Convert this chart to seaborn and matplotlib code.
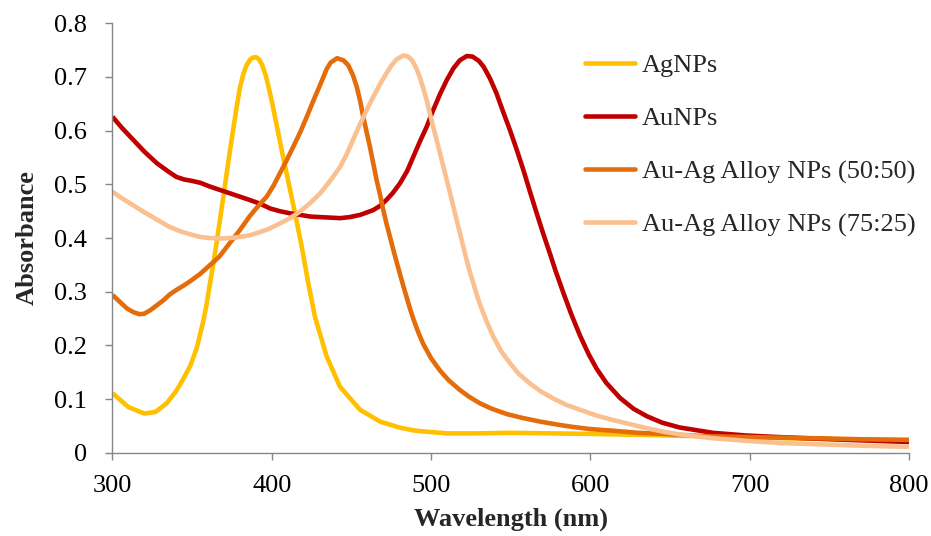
import numpy as np
import pandas as pd
import matplotlib
matplotlib.use("Agg")
import matplotlib.pyplot as plt
import seaborn as sns

# UV-Vis absorbance spectra: wavelength (nm) and absorbance per sample
ag_wl = [300, 310, 320, 327, 334, 340, 344, 349, 353, 357, 359, 361.2, 363.3, 365.4, 369.6, 373.8,
         378, 380, 382, 384, 386.3, 388, 390, 392, 394, 396, 397.8, 400, 402, 406.2, 410.4, 414.6,
         418.8, 422.9, 427.1, 434.5, 442.8, 455.4, 468, 480, 490, 510, 530, 550, 575, 600, 635, 680,
         720, 760, 800]
ag_abs = [0.111, 0.085, 0.073, 0.076, 0.092, 0.115, 0.135, 0.163, 0.196, 0.245, 0.275, 0.315, 0.352,
          0.392, 0.477, 0.564, 0.645, 0.680, 0.704, 0.721, 0.732, 0.736, 0.737, 0.733, 0.722, 0.705,
          0.684, 0.655, 0.626, 0.564, 0.505, 0.446, 0.384, 0.316, 0.253, 0.179, 0.123, 0.080, 0.058,
          0.047, 0.041, 0.036, 0.036, 0.037, 0.036, 0.035, 0.033, 0.030, 0.027, 0.025, 0.023]

au_wl = [300, 306, 313, 320, 328, 335, 340, 345, 349, 355, 361, 368, 374, 380, 386, 392.6, 399, 405,
         411.5, 418, 424, 430, 436.5, 443, 449, 455.4, 460, 463.7, 468, 472, 476, 480.5, 485, 488.8,
         493, 497.2, 501, 505.6, 509.8, 514, 518, 522.4, 526, 530, 533, 537, 541, 545, 549.5, 553.7,
         557.9, 562, 566.3, 570.5, 574.6, 578, 583, 588, 593.5, 599, 604, 610, 618.6, 627, 635.4, 645,
         656, 677, 698, 719, 760, 800]
au_abs = [0.626, 0.605, 0.583, 0.561, 0.539, 0.524, 0.514, 0.509, 0.507, 0.503, 0.496, 0.489, 0.483,
          0.477, 0.471, 0.464, 0.455, 0.450, 0.446, 0.443, 0.440, 0.439, 0.438, 0.437, 0.439, 0.443,
          0.448, 0.452, 0.460, 0.471, 0.484, 0.502, 0.525, 0.551, 0.580, 0.607, 0.636, 0.668, 0.694,
          0.716, 0.731, 0.739, 0.738, 0.730, 0.719, 0.697, 0.670, 0.637, 0.601, 0.565, 0.527, 0.487,
          0.446, 0.407, 0.371, 0.340, 0.298, 0.258, 0.218, 0.183, 0.156, 0.130, 0.102, 0.082, 0.068,
          0.056, 0.047, 0.037, 0.032, 0.029, 0.024, 0.020]

a50_wl = [300, 305, 309, 313, 317, 320, 324, 328, 332, 336, 340, 345, 349, 355, 361, 367, 374, 380,
          386, 391, 396.8, 401, 405, 409, 413.5, 418, 422, 426, 430.3, 434.5, 437, 441, 445, 448, 451,
          453.3, 455.5, 457.4, 459.5, 461.6, 463.7, 465.8, 468, 470, 472, 474.2, 476.3, 478.4, 481,
          483.6, 486.8, 489, 492, 495, 500, 505.6, 511, 518, 524, 530.7, 538, 547.5, 557, 568.4, 580,
          589, 600, 614, 630, 646, 670, 700, 740, 770, 800]
a50_abs = [0.294, 0.280, 0.269, 0.262, 0.258, 0.259, 0.266, 0.275, 0.284, 0.295, 0.303, 0.312, 0.320,
           0.333, 0.349, 0.365, 0.392, 0.415, 0.440, 0.458, 0.477, 0.497, 0.520, 0.543, 0.570, 0.598,
           0.626, 0.655, 0.685, 0.715, 0.727, 0.735, 0.731, 0.722, 0.703, 0.682, 0.655, 0.626, 0.598,
           0.570, 0.539, 0.508, 0.480, 0.452, 0.427, 0.402, 0.378, 0.355, 0.327, 0.300, 0.268, 0.248,
           0.224, 0.203, 0.176, 0.153, 0.135, 0.117, 0.104, 0.092, 0.082, 0.072, 0.065, 0.058, 0.052,
           0.048, 0.044, 0.041, 0.037, 0.035, 0.031, 0.029, 0.027, 0.025, 0.024]

a75_wl = [300, 306, 313, 320, 328, 335, 342, 348.7, 355, 361, 368, 374, 380, 386, 392.6, 399, 405,
          411.5, 418, 424, 430.3, 436.5, 442.8, 447, 451, 455.4, 459.5, 463.7, 468, 472, 475, 478.4,
          482.5, 485, 487.8, 490.5, 492.9, 495, 497.2, 499, 501.3, 503.5, 505.6, 507.7, 509.8, 512,
          514, 516, 518.1, 520.2, 522.3, 524.4, 526.5, 528.6, 530.7, 534.9, 539.1, 544, 549.5, 555,
          562, 569, 576.7, 585, 593.5, 603, 614, 625, 635, 646, 656, 677, 698, 720, 740, 770, 800]
a75_abs = [0.486, 0.474, 0.461, 0.448, 0.434, 0.422, 0.413, 0.407, 0.402, 0.400, 0.399, 0.400, 0.402,
           0.405, 0.411, 0.418, 0.427, 0.437, 0.450, 0.465, 0.483, 0.506, 0.532, 0.556, 0.583, 0.612,
           0.638, 0.663, 0.687, 0.707, 0.721, 0.733, 0.740, 0.739, 0.732, 0.718, 0.700, 0.680, 0.657,
           0.635, 0.607, 0.582, 0.558, 0.533, 0.508, 0.483, 0.458, 0.434, 0.409, 0.384, 0.359, 0.336,
           0.316, 0.295, 0.276, 0.244, 0.216, 0.189, 0.167, 0.147, 0.129, 0.114, 0.101, 0.089, 0.080,
           0.070, 0.061, 0.053, 0.046, 0.039, 0.034, 0.027, 0.022, 0.018, 0.016, 0.013, 0.011]

series_names = ["AgNPs", "AuNPs", "Au-Ag Alloy NPs (50:50)", "Au-Ag Alloy NPs (75:25)"]
series_colors = ["#FFC000", "#C00000", "#E46C0A", "#FAC090"]

frames = []
for name, wl, ab in zip(series_names, [ag_wl, au_wl, a50_wl, a75_wl],
                        [ag_abs, au_abs, a50_abs, a75_abs]):
    frames.append(pd.DataFrame({"Wavelength": wl, "Absorbance": ab, "Sample": name}))
df = pd.concat(frames, ignore_index=True)

sns.set_theme(style="white")
plt.rcParams["font.family"] = ["Liberation Serif", "DejaVu Serif"]

fig = plt.figure(figsize=(9.31, 5.36), dpi=100)
ax = fig.add_axes([0.1208, 0.1554, 0.8556, 0.8011])

sns.lineplot(data=df, x="Wavelength", y="Absorbance", hue="Sample",
             hue_order=series_names, palette=series_colors,
             sort=False, estimator=None, linewidth=3.3, ax=ax, legend=False)
for line in ax.get_lines():
    line.set_solid_joinstyle("round")
    line.set_solid_capstyle("butt")

ax.set_xlim(300, 800)
ax.set_ylim(0, 0.8)
ax.set_xticks([300, 400, 500, 600, 700, 800])
ax.set_yticks(np.arange(0, 0.81, 0.1))
ax.set_yticklabels(["0"] + [f"{v:.1f}" for v in np.arange(0.1, 0.81, 0.1)])

for side in ["top", "right"]:
    ax.spines[side].set_visible(False)
for side in ["left", "bottom"]:
    ax.spines[side].set_color("#868686")
    ax.spines[side].set_linewidth(1.0)

ax.tick_params(axis="both", which="major", direction="out", length=5, width=1,
               color="#868686", labelsize=19, labelcolor="black",
               left=True, bottom=True)
ax.tick_params(axis="y", pad=13.5)
ax.tick_params(axis="x", pad=11)

ax.set_xlabel("Wavelength (nm)", fontsize=19, fontweight="bold", labelpad=8)
ax.set_ylabel("Absorbance", fontsize=19, fontweight="bold", labelpad=11)

handles = [plt.Line2D([], [], color=c, linewidth=3.3, solid_capstyle="round")
           for c in series_colors]
ax.legend(handles, series_names, loc="upper left", bbox_to_anchor=(0.628, 0.900),
          bbox_transform=fig.transFigure, frameon=False, fontsize=19,
          handlelength=1.92, handletextpad=0.25, labelspacing=1.12,
          borderpad=0, borderaxespad=0)

fig.savefig("out.png", dpi=100)
